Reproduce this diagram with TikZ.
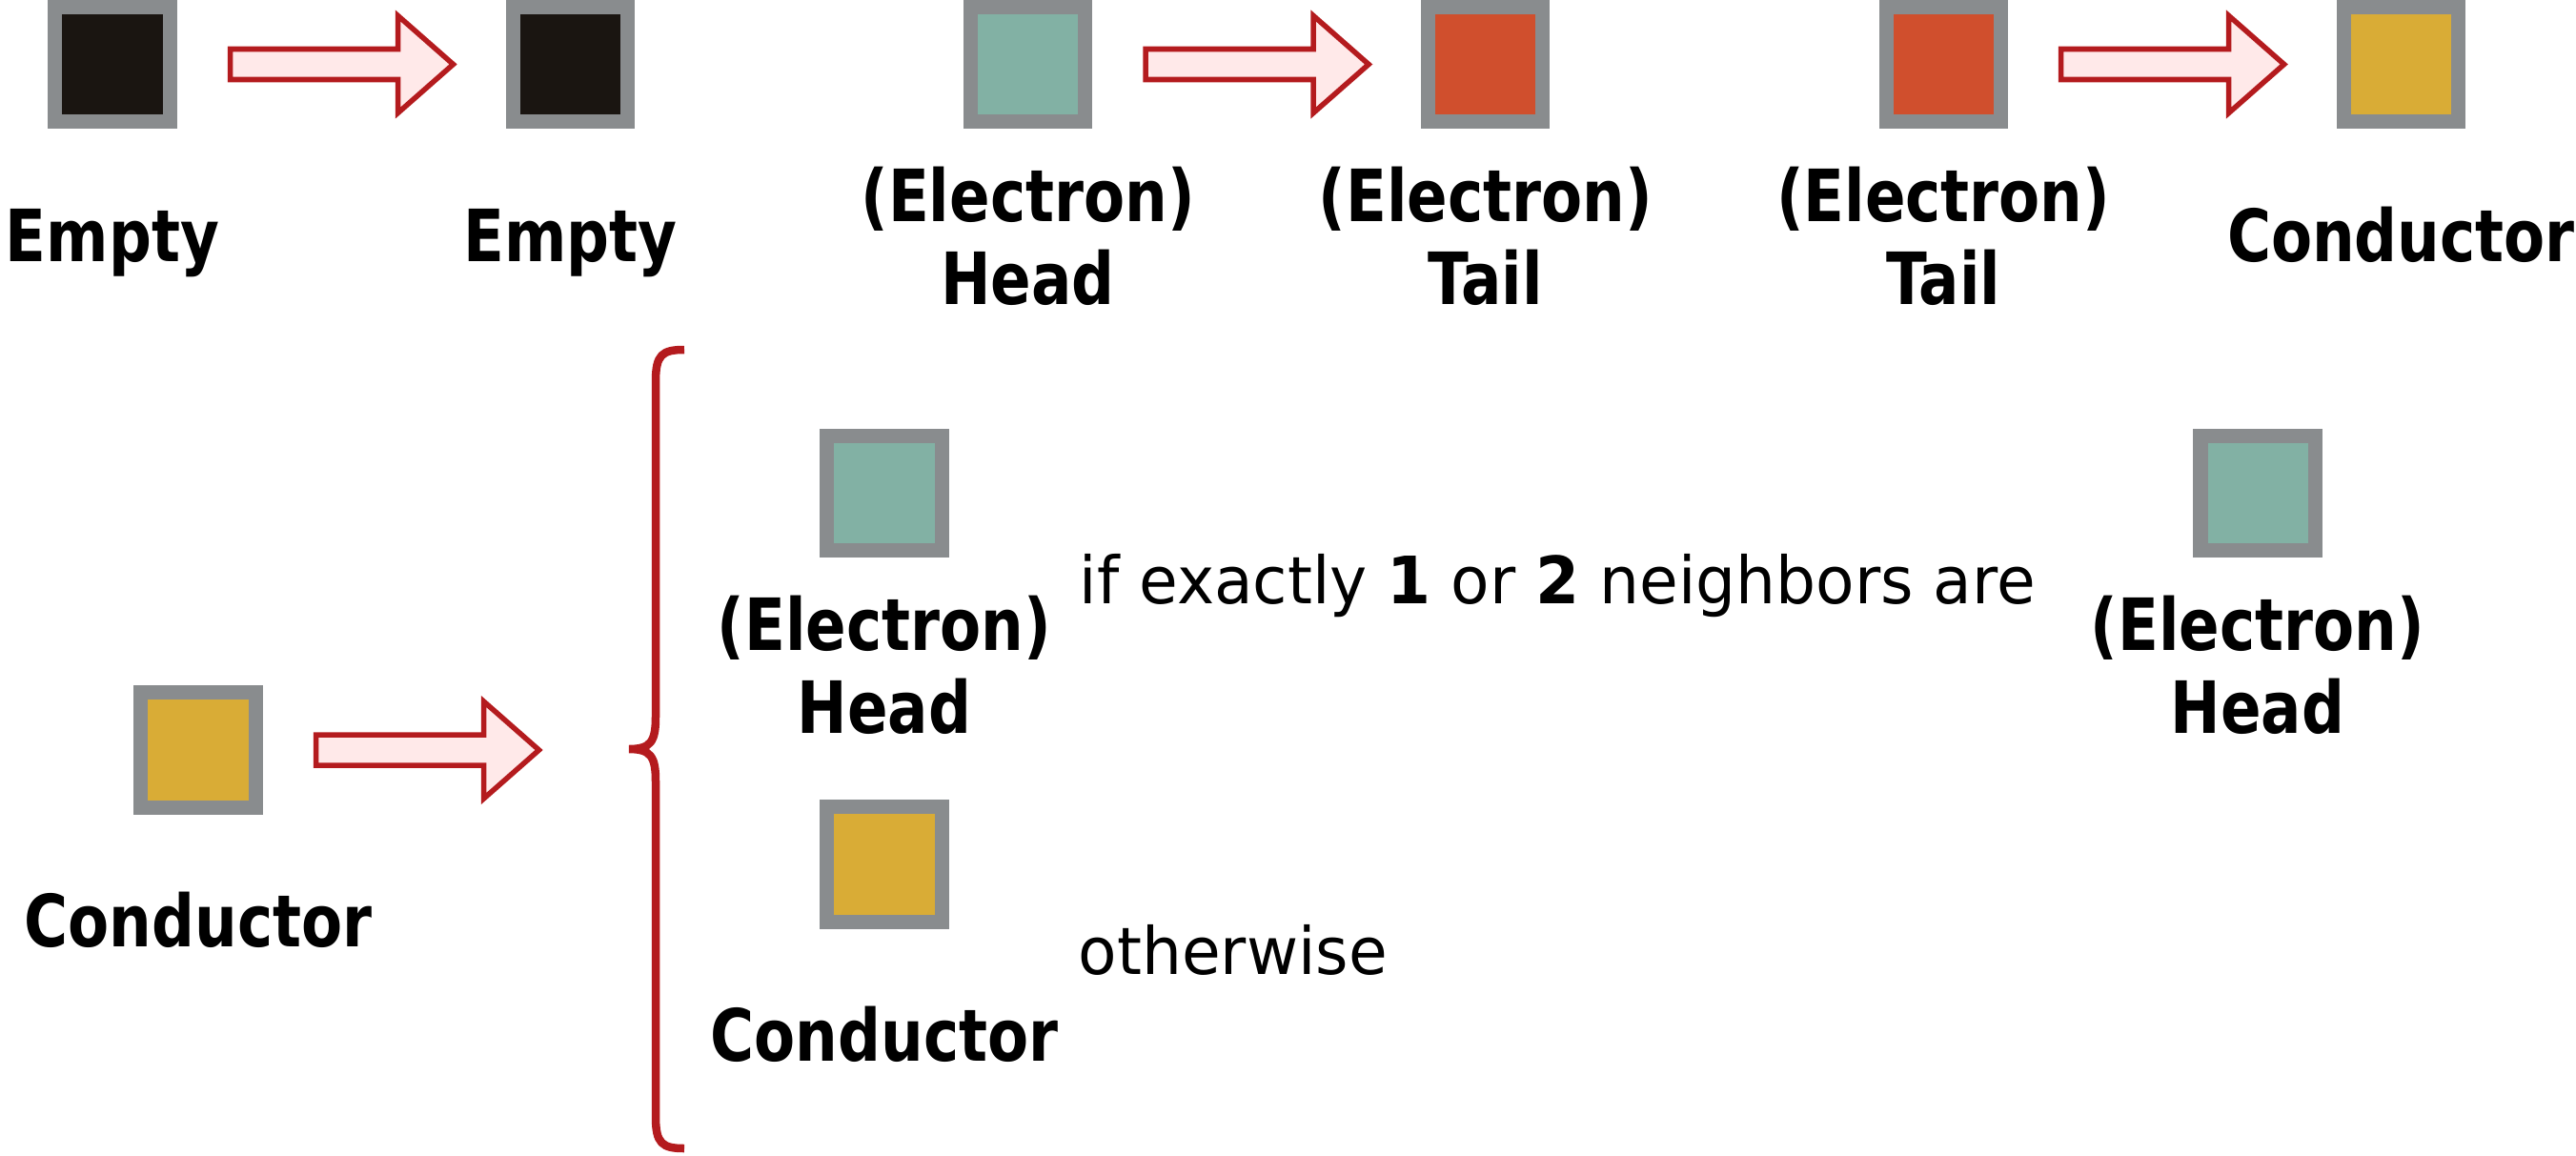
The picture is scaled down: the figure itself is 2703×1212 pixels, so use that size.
\documentclass[tikz,border=0pt]{standalone}
\usepackage{fontspec}
\usetikzlibrary{positioning}
\newfontfamily\namefont{DejaVu Sans}[FakeStretch=0.83]
\newfontfamily\rulefont{DejaVu Sans}[FakeStretch=0.965]
\definecolor{cellgray}{HTML}{898C8E}
\definecolor{emptyfill}{HTML}{1A1511}
\definecolor{headfill}{HTML}{82B1A4}
\definecolor{tailfill}{HTML}{D04F2D}
\definecolor{condfill}{HTML}{D9AC36}
\definecolor{arrowred}{HTML}{B41B1E}
\definecolor{arrowpink}{HTML}{FFE9E9}

\begin{document}
\begin{tikzpicture}[x=0.01cm,y=-0.01cm,node distance=3.45cm,
  cell/.style={rectangle,draw=cellgray,line width=0.15cm,minimum size=1.2cm,inner sep=0pt},
  empty cell/.style={cell,fill=emptyfill},
  head cell/.style={cell,fill=headfill},
  tail cell/.style={cell,fill=tailfill},
  cond cell/.style={cell,fill=condfill},
  cell label/.style={font=\namefont\bfseries\fontsize{21.5}{24.75}\selectfont,align=center,anchor=base,inner sep=0pt},
  rule text/.style={font=\rulefont\fontsize{19.5}{23}\selectfont,anchor=base west,inner sep=0pt},
  fat arrow/.pic={\draw[draw=arrowred,fill=arrowpink,line width=0.055cm,line join=miter]
    (0,-16) -- (176,-16) -- (176,-51) -- (234,0) -- (176,51) -- (176,16) -- (0,16) -- cycle;}]

  \useasboundingbox (0,0) rectangle (2703,1212);

  \node[empty cell] (empty1) at (118,67.5) {};
  \node[empty cell] (empty2) [right=of empty1] {};
  \node[head cell] (head1) [right=of empty2] {};
  \node[tail cell] (tail1) [right=of head1] {};
  \node[tail cell] (tail2) [right=of tail1] {};
  \node[cond cell] (cond1) [right=of tail2] {};

  \pic at ([xshift=0.56cm]empty1.east) {fat arrow};
  \pic at ([xshift=0.56cm]head1.east) {fat arrow};
  \pic at ([xshift=0.56cm]tail2.east) {fat arrow};

  \node[cell label] (empty1 label) at ([yshift=-2.065cm]empty1.center) {Empty};
  \node[cell label] (empty2 label) at ([yshift=-2.065cm]empty2.center) {Empty};
  \node[cell label] (head1 label) at ([yshift=-2.515cm]head1.center) {(Electron)\\Head};
  \node[cell label] (tail1 label) at ([yshift=-2.515cm]tail1.center) {(Electron)\\Tail};
  \node[cell label] (tail2 label) at ([yshift=-2.515cm]tail2.center) {(Electron)\\Tail};
  \node[cell label] (cond1 label) at ([yshift=-2.065cm]cond1.center) {Conductor};

  \node[cond cell] (cond2) at (208,787) {};
  \pic at ([xshift=0.56cm]cond2.east) {fat arrow};
  \node[cell label] (cond2 label) at ([yshift=-2.065cm]cond2.center) {Conductor};

  \draw[arrowred,line width=0.085cm]
    (718,367) .. controls (695,367) and (688,372) .. (688,400) -- (688,752)
    .. controls (688,778) and (683,786) .. (660,786)
    .. controls (683,786) and (688,794) .. (688,820) -- (688,1172)
    .. controls (688,1200) and (695,1205) .. (718,1205);

  \node[head cell] (head2) at (928,517.5) {};
  \node[cell label] (head2 label) at ([yshift=-2.515cm]head2.center) {(Electron)\\Head};
  \node[rule text] (rule1) at (1132,633) {if exactly \textbf{1} or \textbf{2} neighbors are};
  \node[head cell] (head3) at (2369,517.5) {};
  \node[cell label] (head3 label) at ([yshift=-2.515cm]head3.center) {(Electron)\\Head};

  \node[cond cell] (cond3) at (928,907) {};
  \node[cell label] (cond3 label) at ([yshift=-2.065cm]cond3.center) {Conductor};
  \node[rule text] (rule2) at (1131,1022) {otherwise};
\end{tikzpicture}
\end{document}
